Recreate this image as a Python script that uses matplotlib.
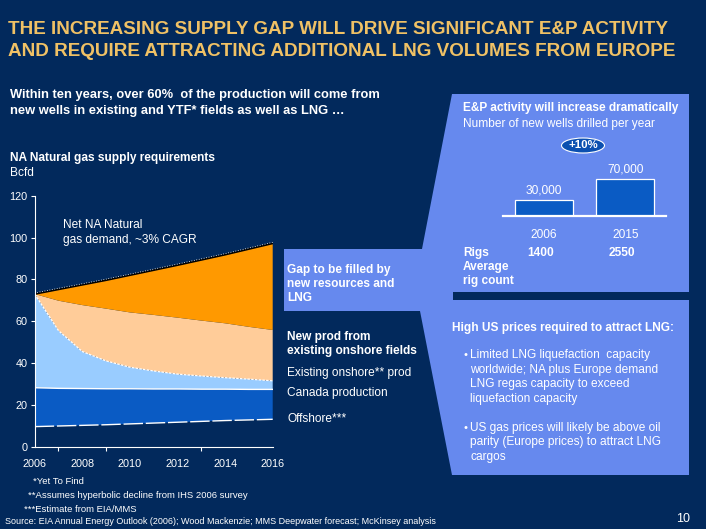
import numpy as np
import matplotlib
matplotlib.use("Agg")
import matplotlib.pyplot as plt
from matplotlib.patches import Polygon, Rectangle, Ellipse
import matplotlib.transforms as mtransforms

plt.rcParams['font.family'] = ['Liberation Sans', 'DejaVu Sans']

# ---------------- data ----------------
years = [2006, 2007, 2008, 2009, 2010, 2011, 2012, 2013, 2014, 2015, 2016]
offshore = [9.6, 9.9, 10.2, 10.5, 10.9, 11.3, 11.7, 12.1, 12.5, 12.8, 13.1]
canada = [18.6, 18.0, 17.6, 17.2, 16.8, 16.3, 15.9, 15.4, 15.0, 14.6, 14.3]
existing_onshore = [44.8, 27.6, 17.7, 13.3, 10.3, 8.6, 7.1, 6.3, 5.5, 4.9, 4.1]
new_prod = [0.0, 14.3, 22.2, 25.0, 26.2, 26.8, 27.0, 26.5, 26.0, 25.0, 24.3]
gap = [0.0, 5.4, 9.7, 13.6, 17.8, 21.4, 25.1, 29.0, 32.8, 37.2, 41.4]

y_ticks = [0, 20, 40, 60, 80, 100, 120]
x_label_years = [2006, 2008, 2010, 2012, 2014, 2016]
x_minor_ticks = [2007, 2009, 2012, 2013, 2014]

well_years = ['2006', '2015']
wells = [30000, 70000]
well_labels = ['30,000', '70,000']
rigs = [1400, 2550]

# ---------------- style ----------------
NAVY = '#02295c'
GOLD = '#f0c165'
PANEL = '#6689ee'
MIDBLUE = '#0a5bc4'
LIGHTBLUE = '#99ccff'
PEACH = '#ffcc99'
ORANGE = '#ff9900'
WHITE = 'white'

W, H = 706, 529
fig = plt.figure(figsize=(W / 100, H / 100), dpi=100)
fig.patch.set_facecolor(NAVY)


def fx(px):
    return px / W


def fy(py):
    return 1 - py / H


bg = fig.add_axes([0, 0, 1, 1])
bg.set_xlim(0, W)
bg.set_ylim(H, 0)
bg.axis('off')
bg.set_zorder(0)

# light panel shape (gap box + wedge + right panels)
shape = Polygon([(452, 94), (689, 94), (689, 475), (452, 475), (420, 311),
                 (284, 311), (284, 249), (422, 249)], closed=True,
                facecolor=PANEL, edgecolor='none')
bg.add_patch(shape)
bg.add_patch(Rectangle((453, 292), 236, 8, facecolor=NAVY, edgecolor='none'))

# titles
title_kw = dict(color=GOLD, fontsize=13.6, fontweight='bold', va='center', ha='left')
bg.text(8, 30, 'THE INCREASING SUPPLY GAP WILL DRIVE SIGNIFICANT E&P ACTIVITY', **title_kw)
bg.text(8, 51, 'AND REQUIRE ATTRACTING ADDITIONAL LNG VOLUMES FROM EUROPE', **title_kw)

sub_kw = dict(color=WHITE, fontsize=9.3, fontweight='bold', va='center', ha='left')
bg.text(10, 95, 'Within ten years, over 60%  of the production will come from', **sub_kw)
bg.text(10, 111, 'new wells in existing and YTF* fields as well as LNG \u2026', **sub_kw)

bg.text(10, 158, 'NA Natural gas supply requirements', color=WHITE, fontsize=8.6,
        fontweight='bold', va='center')
bg.text(10, 173, 'Bcfd', color=WHITE, fontsize=8.6, va='center')

bg.text(63, 225, 'Net NA Natural', color=WHITE, fontsize=8.6, va='center')
bg.text(63, 240, 'gas demand, ~3% CAGR', color=WHITE, fontsize=8.6, va='center')

b_kw = dict(color=WHITE, fontsize=8.6, fontweight='bold', va='center')
n_kw = dict(color=WHITE, fontsize=8.6, va='center')
bg.text(287, 270, 'Gap to be filled by', **b_kw)
bg.text(287, 284, 'new resources and', **b_kw)
bg.text(287, 298, 'LNG', **b_kw)
bg.text(287, 337, 'New prod from', **b_kw)
bg.text(287, 351, 'existing onshore fields', **b_kw)
bg.text(287, 373, 'Existing onshore** prod', **n_kw)
bg.text(287, 393, 'Canada production', **n_kw)
bg.text(287, 419, 'Offshore***', **n_kw)

# E&P panel
bg.text(463, 108, 'E&P activity will increase dramatically', **b_kw)
bg.text(463, 123.5, 'Number of new wells drilled per year', **n_kw)
bg.add_patch(Ellipse((583, 145.5), 43, 15, facecolor='#0b50b0', edgecolor=WHITE, lw=0.8))
bg.text(583, 145.5, '+10%', color=WHITE, fontsize=8.2, fontweight='bold',
        ha='center', va='center')
bg.text(463, 253, 'Rigs', **b_kw)
bg.text(463, 267, 'Average', **b_kw)
bg.text(463, 281, 'rig count', **b_kw)

# lower panel
bg.text(452.5, 328, 'High US prices required to attract LNG:', **b_kw)
bul1 = ['Limited LNG liquefaction  capacity', 'worldwide; NA plus Europe demand',
        'LNG regas capacity to exceed', 'liquefaction capacity']
bul2 = ['US gas prices will likely be above oil', 'parity (Europe prices) to attract LNG',
        'cargos']
bg.text(463, 355, '\u2022', color=WHITE, fontsize=8, va='center')
for i, s in enumerate(bul1):
    bg.text(470.5, 355 + i * 14.7, s, **n_kw)
bg.text(463, 428, '\u2022', color=WHITE, fontsize=8, va='center')
for i, s in enumerate(bul2):
    bg.text(470.5, 428 + i * 14.3, s, **n_kw)

# footnotes
f_kw = dict(color=WHITE, fontsize=6.8, va='center')
bg.text(33, 482, '*Yet To Find', **f_kw)
bg.text(28, 496, '**Assumes hyperbolic decline from IHS 2006 survey', **f_kw)
bg.text(24, 509, '***Estimate from EIA/MMS', **f_kw)
bg.text(5, 521, 'Source: EIA Annual Energy Outlook (2006); Wood Mackenzie; MMS Deepwater forecast; McKinsey analysis',
        color=WHITE, fontsize=6.45, va='center')
bg.text(690, 519, '10', color=WHITE, fontsize=9, ha='right', va='center')

# ---------------- area chart ----------------
ax = fig.add_axes([fx(34.7), fy(446.7), fx(272.7) - fx(34.7), fy(195.7) - fy(446.7)])
ax.set_zorder(2)
ax.patch.set_alpha(0)
ax.stackplot(years, offshore, canada, existing_onshore, new_prod, gap,
             colors=['none', MIDBLUE, LIGHTBLUE, PEACH, ORANGE], linewidth=0)
tops = np.cumsum(np.array([offshore, canada, existing_onshore, new_prod, gap]), axis=0)
ax.plot(years, tops[0], color=WHITE, lw=1.0, ls=(0, (14, 2)))
ax.plot(years, tops[1], color=WHITE, lw=1.0)
ax.plot(years, tops[2], color=WHITE, lw=0.9, ls=(0, (2, 1)))
ax.plot(years, tops[4], color='black', lw=1.3)
ax.plot(years, tops[4] + 0.5, color=WHITE, lw=0.6, ls=(0, (1, 2)))

ax.set_xlim(2006, 2016)
ax.set_ylim(0, 120)
for s in ['top', 'right']:
    ax.spines[s].set_visible(False)
for s in ['left', 'bottom']:
    ax.spines[s].set_color(WHITE)
    ax.spines[s].set_linewidth(0.8)
ax.set_yticks(y_ticks)
ax.set_yticklabels([str(v) for v in y_ticks])
ax.set_xticks(x_label_years)
ax.set_xticklabels([str(v) for v in x_label_years])
ax.set_xticks(x_minor_ticks, minor=True)
ax.tick_params(axis='y', colors=WHITE, labelcolor=WHITE, labelsize=7.8, length=3,
               width=0.8, direction='out', pad=2)
ax.tick_params(axis='x', which='major', labelcolor=WHITE, labelsize=7.8, length=0, pad=9)
ax.tick_params(axis='x', which='minor', colors=WHITE, length=3, width=0.8, direction='out')

# ---------------- wells bar chart ----------------
axb = fig.add_axes([fx(503), fy(216), fx(666) - fx(503), fy(156) - fy(216)])
axb.set_zorder(3)
axb.patch.set_alpha(0)
xb = np.arange(len(wells))
axb.bar(xb, wells, width=0.71, color=MIDBLUE, edgecolor=WHITE, linewidth=0.9)
axb.set_xlim(-0.5, 1.5)
axb.set_ylim(0, 70000 * 60 / 36.7)
for s in ['top', 'right', 'left']:
    axb.spines[s].set_visible(False)
axb.spines['bottom'].set_color(WHITE)
axb.spines['bottom'].set_linewidth(1.6)
axb.set_yticks([])
axb.set_xticks(xb)
axb.set_xticklabels(well_years)
axb.tick_params(axis='x', length=0, labelcolor=WHITE, labelsize=8.6, pad=9)
for i, (v, lab) in enumerate(zip(wells, well_labels)):
    axb.annotate(lab, (i, v), xytext=(0, 3), textcoords='offset points',
                 ha='center', va='bottom', color=WHITE, fontsize=8.6)
blend = mtransforms.blended_transform_factory(axb.transData, bg.transData)
for i, r in enumerate(rigs):
    bg.text(i - 0.04, 253, str(r), transform=blend, color=WHITE, fontsize=8.6,
            fontweight='bold', ha='center', va='center')

fig.savefig('out.png', dpi=100, facecolor=NAVY)
